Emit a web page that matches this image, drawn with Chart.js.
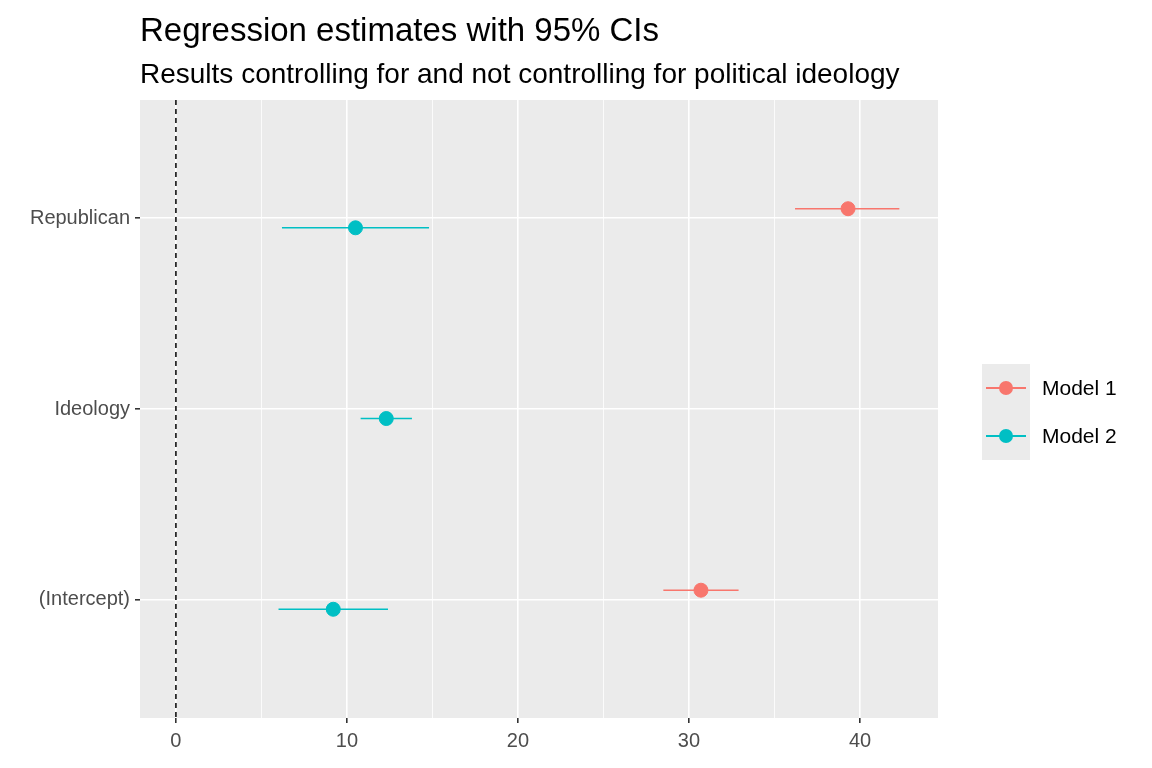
<!DOCTYPE html>
<html>
<head>
<meta charset="utf-8">
<script src="https://cdn.jsdelivr.net/npm/chart.js@4"></script>
<style>
  body { margin: 0; background: #fff; font-family: 'Liberation Sans', Arial, sans-serif; }
  #wrap { position: relative; width: 1152px; height: 768px; }
  #title { position: absolute; left: 140px; top: 11px; font-size: 33px; color: #000; white-space: nowrap; }
  #subtitle { position: absolute; left: 140px; top: 58px; font-size: 28px; color: #000; white-space: nowrap; }
  #legend { position: absolute; left: 982px; top: 364px; font-size: 21px; color: #000; }
  .item { display: flex; align-items: center; height: 48px; }
  .key { width: 48px; height: 48px; background: #ebebeb; position: relative; margin-right: 12px; }
  .key .ln { position: absolute; left: 4px; right: 4px; top: 23px; height: 2px; }
  .key .pt { position: absolute; left: 17px; top: 17px; width: 14px; height: 14px; border-radius: 50%; }
</style>
</head>
<body>
<div id="wrap">
  <canvas id="c" width="1152" height="768"></canvas>
  <div id="title">Regression estimates with 95% CIs</div>
  <div id="subtitle">Results controlling for and not controlling for political ideology</div>
  <div id="legend"></div>
</div>
<script>
const terms = ['(Intercept)', 'Ideology', 'Republican'];
const models = ['Model 1', 'Model 2'];
const colors = ['#F8766D', '#00BFC4'];
// estimates and CIs per model, in term order (null = not in model)
const m1Est = [30.7, null, 39.3];
const m1Lo = [28.5, null, 36.2];
const m1Hi = [32.9, null, 42.3];
const m2Est = [9.2, 12.3, 10.5];
const m2Lo = [6.0, 10.8, 6.2];
const m2Hi = [12.4, 13.8, 14.8];
const dodge = [0.05, -0.05];

function pts(est, off) {
    return est.map((v, i) => v === null ? null : {x: v, y: i + 1 + off}).filter(p => p);
}
function bars(lo, hi, off) {
    const out = [];
    lo.forEach((v, i) => {
        if (v === null) return;
        out.push({x: v, y: i + 1 + off}, {x: hi[i], y: i + 1 + off}, {x: null, y: null});
    });
    return out;
}

const est = [m1Est, m2Est], los = [m1Lo, m2Lo], his = [m1Hi, m2Hi];
const datasets = [];
models.forEach((m, k) => {
    datasets.push({ type: 'line', data: bars(los[k], his[k], dodge[k]), borderColor: colors[k], borderWidth: 1.5, pointRadius: 0, spanGaps: false, order: 2 });
    datasets.push({ type: 'scatter', data: pts(est[k], dodge[k]), backgroundColor: colors[k], borderColor: colors[k], pointRadius: 7, order: 1 });
});

const panelBg = {
    id: 'panelBg',
    beforeDraw(chart) {
        const a = chart.chartArea, ctx = chart.ctx;
        ctx.save(); ctx.fillStyle = '#ebebeb';
        ctx.fillRect(a.left, a.top, a.right - a.left, a.bottom - a.top);
        ctx.restore();
    },
    afterDatasetsDraw(chart) {
        const a = chart.chartArea, ctx = chart.ctx;
        const x0 = chart.scales.x.getPixelForValue(0);
        ctx.save(); ctx.strokeStyle = '#000'; ctx.lineWidth = 1.5; ctx.setLineDash([5, 4]);
        ctx.beginPath(); ctx.moveTo(x0, a.top); ctx.lineTo(x0, a.bottom); ctx.stroke();
        ctx.restore();
    }
};

new Chart(document.getElementById('c'), {
    data: { datasets },
    plugins: [panelBg],
    options: {
        responsive: false, animation: false,
        layout: { padding: { top: 100, right: 214, left: 0, bottom: 0 } },
        plugins: { legend: { display: false }, tooltip: { enabled: false } },
        scales: {
            x: {
                type: 'linear', min: -2.1, max: 44.56,
                afterBuildTicks: s => { s.ticks = [0,5,10,15,20,25,30,35,40].map(v => ({value: v})); },
                afterFit: s => { s.height = 50; },
                ticks: { color: '#4d4d4d', font: { size: 20, family: 'Liberation Sans' }, padding: 6,
                         callback: v => v % 10 === 0 ? v : '' },
                grid: { color: '#fff', lineWidth: c => c.tick && c.tick.value % 10 === 0 ? 1.6 : 0.8,
                        tickColor: c => c.tick && c.tick.value % 10 === 0 ? '#333' : 'rgba(0,0,0,0)', tickLength: 5 },
                border: { display: false }
            },
            y: {
                type: 'linear', min: 0.38, max: 3.62,
                afterBuildTicks: s => { s.ticks = [1,2,3].map(v => ({value: v})); },
                afterFit: s => { s.width = 140; },
                ticks: { color: '#4d4d4d', font: { size: 20, family: 'Liberation Sans' }, padding: 5,
                         callback: v => terms[v - 1] },
                grid: { color: '#fff', lineWidth: 1.6, tickColor: '#333', tickLength: 5 },
                border: { display: false }
            }
        }
    }
});

const leg = document.getElementById('legend');
models.forEach((m, k) => {
    leg.innerHTML += `<div class="item"><div class="key"><div class="ln" style="background:${colors[k]}"></div><div class="pt" style="background:${colors[k]}"></div></div>${m}</div>`;
});
</script>
</body>
</html>
